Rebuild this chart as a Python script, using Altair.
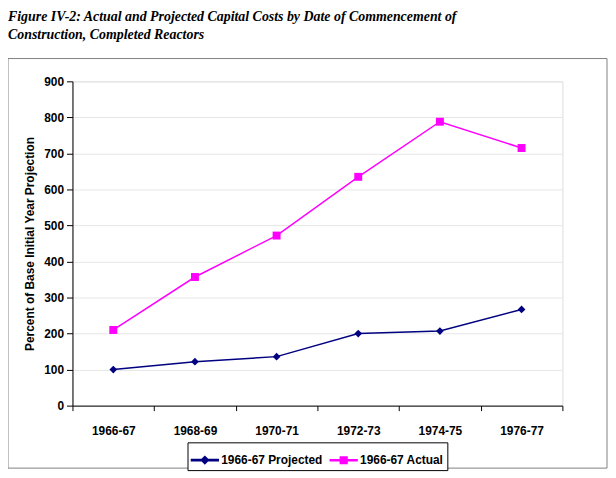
import altair as alt
import pandas as pd

periods = ["1966-67", "1968-69", "1970-71", "1972-73", "1974-75", "1976-77"]
projected = [100, 122, 136, 200, 207, 267]
actual = [210, 357, 472, 635, 788, 715]
series_names = ["1966-67 Projected", "1966-67 Actual"]
colors = ["#000080", "#FF00FF"]

rows = []
for p, v in zip(periods, projected):
    rows.append({"period": p, "value": v, "series": series_names[0]})
for p, v in zip(periods, actual):
    rows.append({"period": p, "value": v, "series": series_names[1]})
df = pd.DataFrame(rows)

FONT = "Liberation Sans"

diamond_path = "M-1,-0.045H1V0.045H-1ZM0,-0.27L0.27,0L0,0.27L-0.27,0Z"
square_path = "M-1,-0.045H1V0.045H-1ZM-0.25,-0.25H0.25V0.25H-0.25Z"

x_enc = alt.X(
    "period:N",
    sort=periods,
    bandPosition=0.5,
    scale=alt.Scale(type="band", paddingInner=0, paddingOuter=0),
    axis=alt.Axis(
        title=None, tickBand="extent", labelAngle=0, labelFont=FONT,
        labelFontWeight="bold", labelFontSize=12, labelColor="black",
        domainColor="black", tickColor="black", tickSize=5, labelPadding=15,
        grid=False,
    ),
)
y_enc = alt.Y(
    "value:Q",
    scale=alt.Scale(domain=[0, 900]),
    axis=alt.Axis(
        title="Percent of Base Initial Year Projection", values=list(range(0, 901, 100)),
        titleFont=FONT, titleFontWeight="bold", titleFontSize=12, titleColor="black",
        labelFont=FONT, labelFontWeight="bold", labelFontSize=12, labelColor="black",
        domainColor="black", tickColor="black", tickSize=6, labelPadding=3,
        gridColor="#e6e6e6", titlePadding=7,
    ),
)
color_scale = alt.Scale(domain=series_names, range=colors)
color_enc = alt.Color("series:N", scale=color_scale, sort=series_names)

lines = alt.Chart(df).mark_line(strokeWidth=1.5).encode(
    x=x_enc, y=y_enc, color=color_enc,
)

proj_points = alt.Chart(df).transform_filter(
    alt.datum.series == series_names[0]
).mark_point(filled=True, opacity=1, shape="diamond", size=60).encode(
    x=x_enc, y=y_enc, color=color_enc,
)
act_points = alt.Chart(df).transform_filter(
    alt.datum.series == series_names[1]
).mark_point(filled=True, opacity=1, shape="square", size=64).encode(
    x=x_enc, y=y_enc, color=color_enc,
)

legend_layer = alt.Chart(df).mark_point(filled=True, opacity=0, size=729).encode(
    x=x_enc, y=y_enc,
    color=alt.Color(
        "series:N", scale=color_scale, sort=series_names,
        legend=alt.Legend(
            title=None, orient="none", direction="horizontal",
            legendX=116, legendY=364, strokeColor="black", padding=3,
            labelFont=FONT, labelFontWeight="bold", labelFontSize=12, labelColor="black",
            symbolSize=729, symbolOpacity=1, columnPadding=4, labelOffset=2,
            fillColor="white",
        ),
    ),
    shape=alt.Shape("series:N", sort=series_names,
                    scale=alt.Scale(domain=series_names, range=[diamond_path, square_path])),
)

frame = alt.Chart(alt.Data(values=[{}])).mark_rect(
    fill=None, stroke="#808080", strokeWidth=1
).encode(
    x=alt.value(-65), x2=alt.value(539), y=alt.value(-23), y2=alt.value(390)
)

chart = alt.layer(frame, lines, proj_points, act_points, legend_layer).properties(
    width=494,
    height=327,
    autosize=alt.AutoSizeParams(type="none"),
    padding={"left": 65, "top": 72, "right": 46, "bottom": 70},
    title=alt.TitleParams(
        text=["Figure IV-2: Actual and Projected Capital Costs by Date of Commencement of",
              "Construction, Completed Reactors"],
        anchor="start", frame="group", dx=-65, offset=16,
        font="Liberation Serif", fontStyle="italic", fontWeight="bold", fontSize=14,
        lineHeight=18, color="black",
    ),
).configure_view(stroke="#a0a0a0", strokeWidth=1).configure(background="white")

chart.save("out.html", embed_options={"renderer": "svg", "actions": False})
